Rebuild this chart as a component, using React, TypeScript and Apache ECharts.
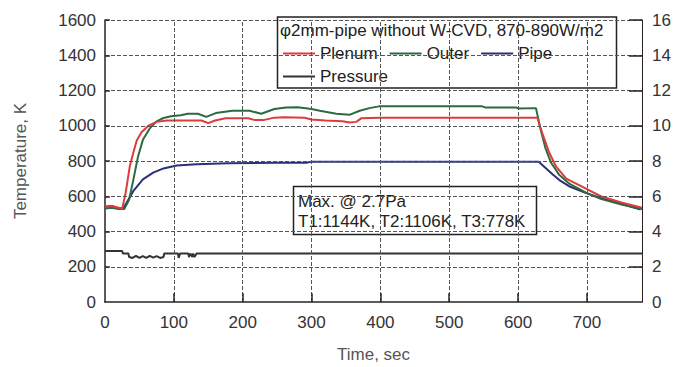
import { useEffect, useRef } from "react";
import * as echarts from "echarts";

const FONT = '"Liberation Sans", Arial, sans-serif';

const plenumTime = [0, 10, 20, 25, 30, 36, 41, 46, 53, 63, 75, 90, 120, 140, 150, 160, 175, 208, 218, 230, 246, 260, 290, 300, 320, 345, 355, 365, 372, 400, 500, 628, 635, 645, 655, 670, 700, 720, 750, 780];
const plenumTemp = [540, 545, 535, 530, 620, 770, 845, 915, 963, 1000, 1022, 1030, 1030, 1030, 1015, 1030, 1043, 1043, 1032, 1032, 1046, 1048, 1045, 1035, 1030, 1025, 1018, 1022, 1042, 1045, 1045, 1045, 960, 850, 770, 700, 640, 600, 565, 535];

const outerTime = [0, 10, 20, 28, 35, 41, 48, 55, 65, 75, 85, 96, 110, 120, 135, 147, 161, 185, 210, 227, 246, 263, 280, 300, 312, 336, 355, 370, 384, 398, 548, 552, 597, 600, 626, 632, 640, 648, 660, 675, 700, 720, 750, 780];
const outerTemp = [530, 535, 528, 528, 580, 690, 826, 920, 985, 1025, 1044, 1054, 1060, 1068, 1068, 1050, 1072, 1085, 1085, 1068, 1095, 1103, 1105, 1095, 1085, 1068, 1062, 1085, 1100, 1110, 1110, 1104, 1104, 1098, 1100, 990, 870, 790, 720, 670, 618, 585, 553, 528];

const pipeTime = [0, 10, 20, 26, 33, 41, 55, 70, 85, 104, 133, 179, 246, 292, 300, 630, 640, 650, 660, 674, 698, 722, 746, 778];
const pipeTemp = [540, 545, 530, 528, 575, 629, 696, 734, 758, 775, 781, 787, 790, 790, 796, 796, 760, 725, 692, 657, 619, 587, 562, 525];

const pressureTime = [0, 25, 26, 34, 35, 40, 45, 50, 55, 60, 65, 70, 75, 80, 85, 86, 106, 107, 109, 121, 122, 124, 127, 128, 130, 133, 134, 780];
const pressureVal = [2.9, 2.9, 2.75, 2.75, 2.55, 2.5, 2.62, 2.5, 2.6, 2.5, 2.62, 2.52, 2.6, 2.5, 2.55, 2.75, 2.75, 2.5, 2.75, 2.75, 2.55, 2.75, 2.55, 2.75, 2.55, 2.75, 2.75, 2.75];

// grid / tick positions (axis values)
const timeTicks = [100, 200, 300, 400, 500, 600, 700];
const tempTicks = [200, 400, 600, 800, 1000, 1200, 1400, 1600];
const X_MAX = 780;

const zip = (t: number[], v: number[]) => t.map((x, i) => [x, v[i]]);

const titleText = "φ2mm-pipe without W-CVD, 870-890W/m2";
const noteText = "Max. @ 2.7Pa\nT1:1144K, T2:1106K, T3:778K";

export default function App() {
  const ref = useRef<HTMLDivElement>(null);
  useEffect(() => {
    if (!ref.current) return;
    const chart = echarts.init(ref.current, null, { renderer: "svg" });
    const axisColor = "#2a2222";
    const tickStyle = { type: "solid", color: axisColor, width: 1.5 };
    const guideLines: any[] = [
      ...timeTicks.map((x) => ({ xAxis: x })),
      ...tempTicks.map((y) => ({ yAxis: y })),
      ...timeTicks.map((x) => [{ coord: [x, 0], lineStyle: tickStyle }, { coord: [x, 50] }]),
      ...tempTicks.map((y) => [{ coord: [0, y], lineStyle: tickStyle }, { coord: [7, y] }]),
      ...tempTicks.map((y) => [{ coord: [X_MAX - 19, y], lineStyle: tickStyle }, { coord: [X_MAX, y] }]),
    ];
    const lineSeries = (name: string, data: number[][], color: string, yAxisIndex = 0) => ({
      name,
      type: "line",
      data,
      yAxisIndex,
      symbol: "none",
      lineStyle: { color, width: 2 },
      itemStyle: { color },
      z: 2,
    });
    chart.setOption({
      animation: false,
      backgroundColor: "#ffffff",
      textStyle: { fontFamily: FONT },
      title: {
        text: titleText,
        left: 280,
        top: 22,
        padding: 0,
        textStyle: { fontSize: 17, fontWeight: "normal", color: "#222" },
      },
      legend: [
        {
          data: ["Plenum", "Outer", "Pipe"],
          left: 283,
          top: 45,
          padding: 0,
          icon: "rect",
          itemWidth: 32,
          itemHeight: 2,
          itemGap: 12,
          textStyle: { fontSize: 17, color: "#222" },
        },
        {
          data: ["Pressure"],
          left: 283,
          top: 68,
          padding: 0,
          icon: "rect",
          itemWidth: 32,
          itemHeight: 2,
          textStyle: { fontSize: 17, color: "#222" },
        },
      ],
      grid: { left: 105, right: 33, top: 20, bottom: 65, outerBoundsMode: "none", containLabel: false },
      xAxis: {
        type: "value",
        min: 0,
        max: X_MAX,
        interval: 100,
        name: "Time, sec",
        nameLocation: "middle",
        nameGap: 44,
        nameTextStyle: { fontSize: 17, color: "#555" },
        axisLine: { show: true, onZero: false, lineStyle: { color: axisColor, width: 1.5 } },
        axisTick: { show: false },
        axisLabel: { fontSize: 17, color: "#333", margin: 12, showMaxLabel: false },
        splitLine: { show: false },
      },
      yAxis: [
        {
          type: "value",
          min: 0,
          max: 1600,
          interval: 200,
          position: "left",
          name: "Temperature, K",
          nameLocation: "middle",
          nameRotate: 90,
          nameGap: 76,
          nameTextStyle: { fontSize: 17, color: "#555" },
          axisLine: { show: true, onZero: false, lineStyle: { color: axisColor, width: 1.5 } },
          axisTick: { show: false },
          axisLabel: { fontSize: 17, color: "#333", margin: 9, formatter: (v: number) => String(v) },
          splitLine: { show: false },
        },
        {
          type: "value",
          min: 0,
          max: 16,
          interval: 2,
          position: "right",
          axisLine: { show: true, onZero: false, lineStyle: { color: axisColor } },
          axisTick: { show: false },
          axisLabel: { fontSize: 17, color: "#333", margin: 10 },
          splitLine: { show: false },
        },
      ],
      graphic: [
        {
          type: "rect",
          z: 3,
          shape: { x: 277.5, y: 17, width: 339, height: 71 },
          style: { fill: "#ffffff", stroke: "#222", lineWidth: 1.5 },
        },
        {
          type: "rect",
          z: 3,
          shape: { x: 293.5, y: 186.5, width: 243, height: 48 },
          style: { fill: "#ffffff", stroke: "#222", lineWidth: 1.5 },
        },
        {
          type: "text",
          z: 4,
          x: 298,
          y: 191,
          style: { text: noteText, fontSize: 17, lineHeight: 20, fill: "#222" },
        },
      ],
      series: [
        {
          ...lineSeries("Pipe", zip(pipeTime, pipeTemp), "#2b2f78"),
          markLine: {
            silent: true,
            animation: false,
            symbol: ["none", "none"],
            label: { show: false },
            emphasis: { disabled: true },
            lineStyle: { color: "#555555", type: "dashed", width: 1 },
            data: guideLines,
          },
        },
        lineSeries("Pressure", zip(pressureTime, pressureVal), "#333333", 1),
        lineSeries("Outer", zip(outerTime, outerTemp), "#2d6a40"),
        lineSeries("Plenum", zip(plenumTime, plenumTemp), "#dc3c3c"),
      ],
    });
    return () => chart.dispose();
  }, []);
  return <div ref={ref} style={{ position: "fixed", left: 0, top: 0, width: 675, height: 367 }} />;
}
